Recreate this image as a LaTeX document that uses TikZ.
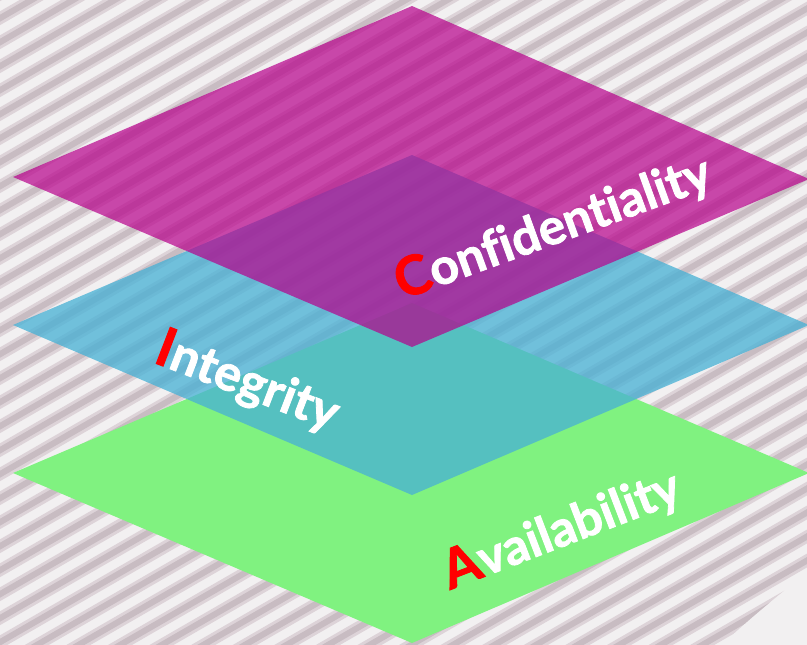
\documentclass[tikz,border=0pt]{standalone}
\usepackage{fontspec}
\setmainfont{Lato}[Ligatures={NoCommon}, BoldFeatures={FakeBold=1.6}]
\definecolor{bgc}{RGB}{242,240,241}
\definecolor{stripec}{RGB}{200,188,194}
\definecolor{stripesoft}{RGB}{221,211,216}
\definecolor{greenc}{RGB}{128,242,128}
\definecolor{bluec}{RGB}{72,177,213}
\definecolor{magc}{RGB}{183,0,139}
\definecolor{firstc}{RGB}{255,0,0}
\newcommand\firstletter[1]{{\color{firstc}\fontsize{54}{54}\selectfont #1}}
\tikzset{
  stripesoftline/.style={stripesoft, line width=12pt},
  stripeline/.style={stripec, line width=6pt},
  layer/.style={draw=none},
  lab/.style={text=white, font=\bfseries\fontsize{50}{50}\selectfont, inner sep=0pt, anchor=base west}
}
\begin{document}
\begin{tikzpicture}[x=1pt,y=-1pt]
\useasboundingbox (0,0) rectangle (807,645);
\fill[bgc] (0,0) rectangle (807,645);
\begin{scope}
  \clip (0,0) -- (807,0) -- (807,572) .. controls (775,598) and (745,622) .. (722,645) -- (0,645) -- cycle;
  \foreach \c in {0,24,...,1150} {
    \draw[stripesoftline] (-10,\c) -- (820,\c-479);
    \draw[stripeline] (-10,\c) -- (820,\c-479);
  }
\end{scope}
% layers
\fill[layer, greenc] (13,473) -- (412,303) -- (809,473) -- (412,643) -- cycle;
\fill[layer, bluec, opacity=.76] (13,325) -- (412,155) -- (809,325) -- (412,495) -- cycle;
\fill[layer, magc, opacity=.7] (13,177) -- (412,6) -- (809,179) -- (412,347) -- cycle;
% labels
\node[lab, rotate=20] (conf) at (402,300) {\firstletter{C}onfidentiality};
\node[lab, rotate=-21] (integ) at (152,362) {\firstletter{I}ntegrity};
\node[lab, rotate=21] (avail) at (450,590) {\firstletter{A}vailability};
\end{tikzpicture}
\end{document}
